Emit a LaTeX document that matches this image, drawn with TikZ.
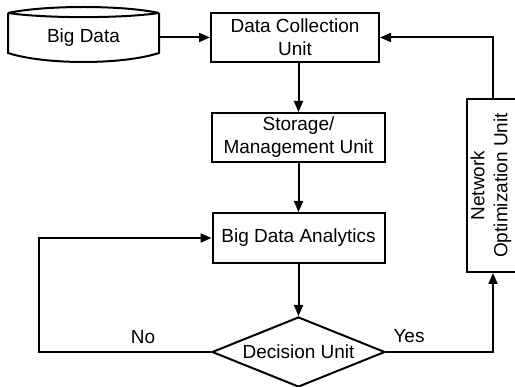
\documentclass[tikz,border=0pt]{standalone}
\usepackage{fontspec}
\setmainfont{Liberation Sans}
\usetikzlibrary{arrows.meta,shapes.geometric}
\begin{document}
\begin{tikzpicture}[x=1pt,y=-1pt,
  line width=2pt,
  font=\fontsize{19}{23}\selectfont,
  arr/.style={-{Triangle[length=11pt,width=9pt]}},
  boxnode/.style={draw,rectangle,inner sep=0pt,align=center},
  lbl/.style={inner sep=0pt}]
\useasboundingbox (0,0) rectangle (515,387);
% Big Data drum
\draw (8,13) .. controls (45,5) and (122,5) .. (159,13);
\draw (8,13) .. controls (45,18.5) and (122,18.5) .. (159,13);
\draw (8,13) -- (8,53) .. controls (45,65) and (122,65) .. (159,53) -- (159,13);
\node[lbl, minimum width=151pt, minimum height=49pt] (bd) at (83.5,37.5) {Big Data};
% boxes
\node[boxnode, minimum width=168pt, minimum height=49pt] (dcu) at (295,37.5) {Data Collection\\Unit};
\node[boxnode, minimum width=173pt, minimum height=49pt] (smu) at (298.5,137.5) {Storage/\\Management Unit};
\node[boxnode, minimum width=172pt, minimum height=50pt] (bda) at (298.5,238) {Big Data Analytics};
\node[draw, diamond, inner sep=0pt, aspect=2.47, minimum width=173pt, minimum height=70pt] (dec) at (298.5,352) {Decision Unit};
\node[boxnode, minimum width=173pt, minimum height=58pt, rotate=90] (nou) at (496,185.5) {};
\node[lbl, rotate=90, align=center] (noutext) at (491,185.5) {Network\\Optimization Unit};
\coordinate (nocorner) at (39,352);
\coordinate (yescol) at (493,0);
% connectors
\draw[arr] (bd.east) -- (dcu.west);
\draw[arr] (smu.north |- dcu.south) -- (smu.north);
\draw[arr] (smu.south) -- (bda.north);
\draw[arr] (bda.south) -- (dec.north);
\draw[arr] (dec.west) -- (nocorner) |- (bda.west);
\draw[arr] (dec.east) -| (yescol |- nou.west);
\draw[arr] (yescol |- nou.east) |- (dcu.east);
% labels
\node[lbl] (no) at (143,337) {No};
\node[lbl] (yes) at (409,336) {Yes};
\end{tikzpicture}
\end{document}
